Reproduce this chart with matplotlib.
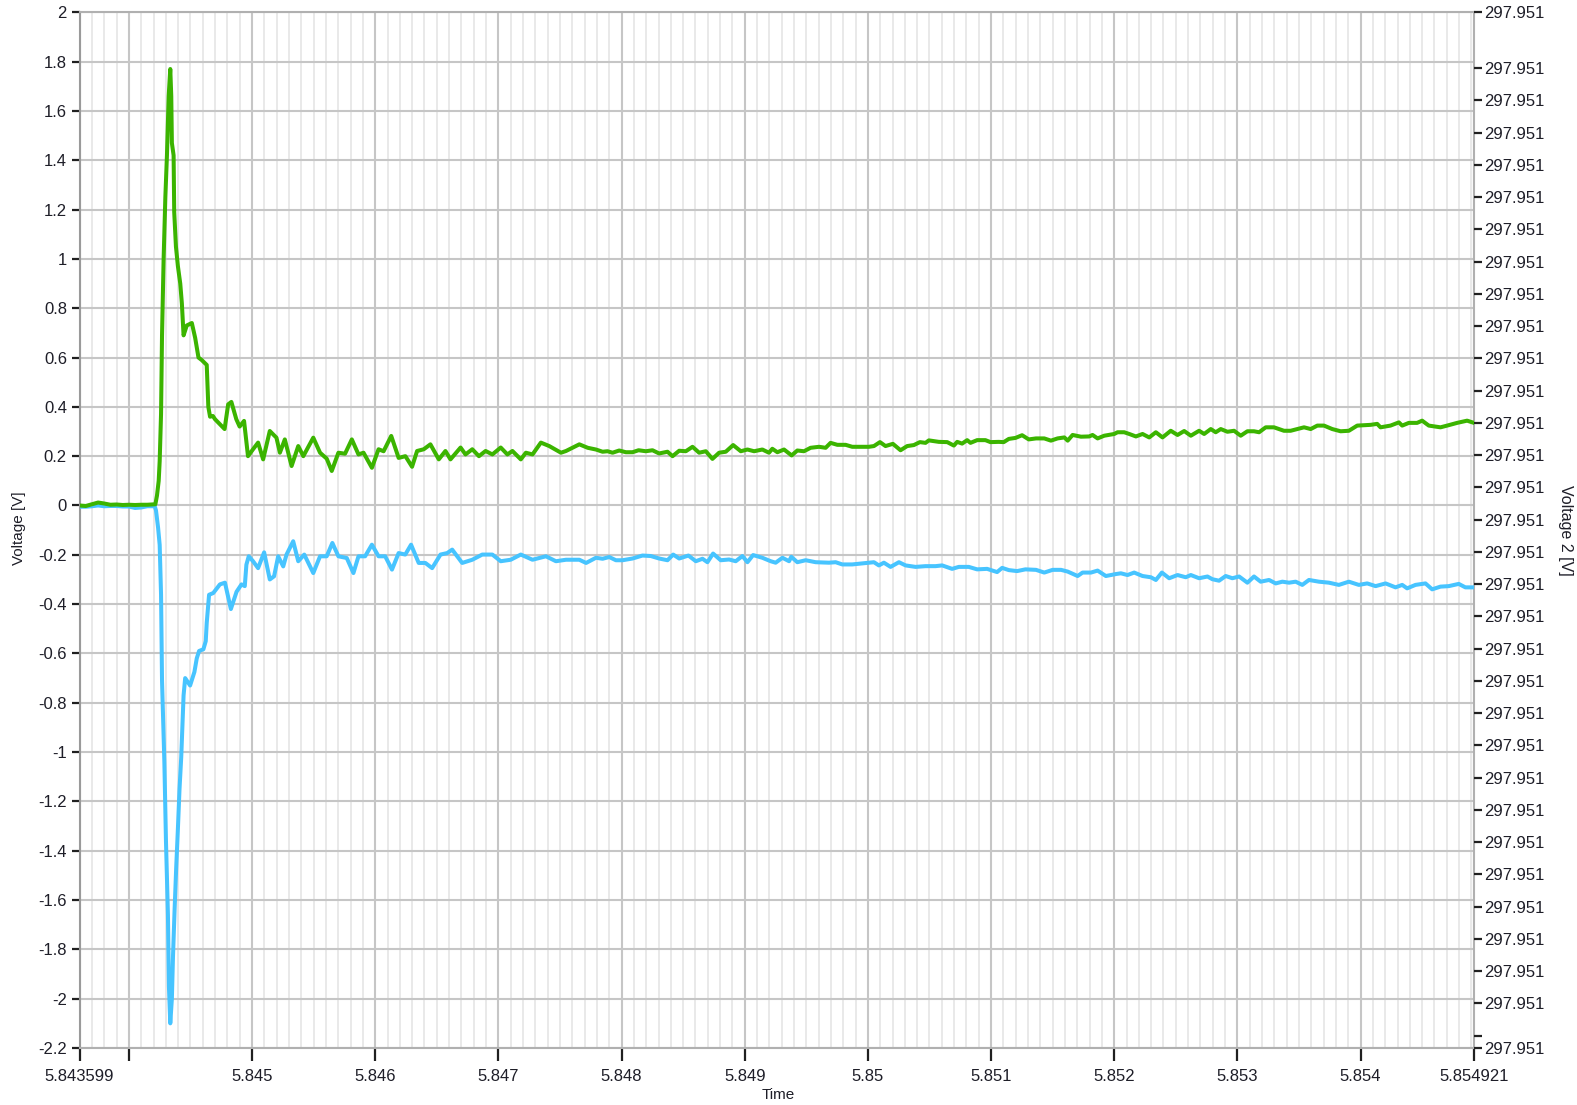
import matplotlib
matplotlib.use("Agg")
import matplotlib.pyplot as plt
from matplotlib.ticker import FixedLocator

plt.rcParams['font.family'] = ['Liberation Sans', 'DejaVu Sans']

# ---------------- data ----------------
green_t = [5.843599, 5.84365, 5.8437, 5.84375, 5.8438, 5.84385, 5.8439, 5.84395, 5.844, 5.84405, 5.8441, 5.84415, 5.844215,
           5.844228, 5.844242, 5.84425, 5.844261, 5.844269, 5.844282, 5.844296, 5.844309, 5.844323, 5.844336, 5.844344,
           5.844349, 5.844363, 5.844368, 5.844382, 5.844398, 5.844417, 5.84443, 5.844444, 5.84447, 5.844511, 5.844538,
           5.844565, 5.844591, 5.844632, 5.844645, 5.844659, 5.844682, 5.844699, 5.844777, 5.844806, 5.844832, 5.844872,
           5.844899, 5.844935, 5.844967,
           5.845008, 5.845049, 5.84509, 5.845144, 5.845198, 5.845226, 5.845266, 5.845321, 5.845375, 5.845416, 5.845497,
           5.845552, 5.845606, 5.845647, 5.845701, 5.845755, 5.84581, 5.845864, 5.845905, 5.845973, 5.846027, 5.846068,
           5.84613, 5.84619, 5.846245, 5.846299, 5.84634, 5.846394, 5.846448, 5.846516, 5.84657, 5.846611, 5.846693,
           5.846733, 5.846788, 5.846842, 5.846896, 5.846951, 5.847019, 5.847073, 5.847114, 5.847182, 5.847223, 5.847277,
           5.847345, 5.847413, 5.847508, 5.847549, 5.847657, 5.847725,
           5.847792, 5.847846, 5.847886, 5.847927, 5.847981, 5.848035, 5.848089, 5.848138, 5.848197, 5.848251, 5.848305,
           5.848373, 5.848414, 5.848468, 5.848522, 5.848576, 5.84863, 5.848684, 5.848738, 5.848792, 5.848846, 5.848906,
           5.848968, 5.849022, 5.849076, 5.849143, 5.849197, 5.849224, 5.849265, 5.849319, 5.849381, 5.849427, 5.849481,
           5.849535, 5.849603, 5.849657, 5.849697, 5.849752, 5.849819, 5.849873, 5.849927, 5.850008, 5.850049, 5.850098,
           5.850143, 5.850203, 5.850265, 5.850319, 5.850373, 5.850422, 5.850468, 5.850495, 5.850576, 5.850644, 5.850698,
           5.850725, 5.850765, 5.850806, 5.850833, 5.850887, 5.850954, 5.850995, 5.851062, 5.851103, 5.851144, 5.851198,
           5.851252, 5.851306,
           5.851365, 5.851432, 5.851486, 5.85154, 5.851595, 5.851622, 5.851662, 5.85173, 5.851797, 5.851824, 5.851865,
           5.851919, 5.852, 5.852027, 5.852081, 5.852122, 5.852176, 5.85223, 5.852284, 5.852338, 5.852392, 5.852459,
           5.852514, 5.852568, 5.852622, 5.852689, 5.85273, 5.852784, 5.852824, 5.852865, 5.852919, 5.852973, 5.853027,
           5.853081, 5.853135, 5.853176, 5.85323, 5.853297, 5.853378, 5.853432, 5.853486, 5.853541, 5.853595, 5.853649,
           5.853703, 5.85377, 5.853838, 5.853905, 5.853973, 5.854081, 5.854135, 5.854162, 5.854243, 5.854311, 5.854338,
           5.854392, 5.854459, 5.8545, 5.854554, 5.854649, 5.854703, 5.854784, 5.854865, 5.854921]
green_v = [0.000, -0.002, 0.005, 0.012, 0.008, 0.003, 0.004, 0.002, 0.003, 0.002, 0.003, 0.003, 0.005,
           0.04, 0.10, 0.18, 0.37, 0.69, 1.00, 1.25, 1.42, 1.66, 1.77, 1.66,
           1.47, 1.42, 1.19, 1.05, 0.97, 0.90, 0.82, 0.69, 0.73, 0.74, 0.68,
           0.60, 0.59, 0.57, 0.40, 0.36, 0.363, 0.35, 0.31, 0.41, 0.42, 0.35,
           0.32, 0.343, 0.20,
           0.228, 0.255, 0.187, 0.302, 0.275, 0.214, 0.268, 0.16, 0.241, 0.20, 0.275,
           0.214, 0.19, 0.14, 0.214, 0.21, 0.268, 0.207, 0.214, 0.153, 0.228, 0.22,
           0.282, 0.193, 0.2, 0.157, 0.221, 0.228, 0.248, 0.187, 0.221, 0.187, 0.235,
           0.207, 0.228, 0.2, 0.221, 0.207, 0.235, 0.207, 0.221, 0.187, 0.214, 0.207,
           0.255, 0.241, 0.214, 0.221, 0.248, 0.234,
           0.227, 0.218, 0.220, 0.214, 0.223, 0.216, 0.216, 0.224, 0.220, 0.224, 0.211,
           0.218, 0.200, 0.222, 0.220, 0.238, 0.214, 0.220, 0.189, 0.214, 0.218, 0.245,
           0.220, 0.227, 0.220, 0.227, 0.214, 0.230, 0.216, 0.227, 0.203, 0.223, 0.220,
           0.234, 0.238, 0.234, 0.254, 0.246, 0.246, 0.238, 0.238, 0.238, 0.241, 0.257,
           0.241, 0.250, 0.224, 0.241, 0.245, 0.257, 0.254, 0.264, 0.258, 0.257, 0.243,
           0.258, 0.251, 0.265, 0.254, 0.265, 0.265, 0.257, 0.258, 0.257, 0.270, 0.274,
           0.285, 0.268,
           0.272, 0.272, 0.263, 0.272, 0.276, 0.263, 0.286, 0.279, 0.280, 0.286, 0.272,
           0.283, 0.290, 0.297, 0.297, 0.290, 0.280, 0.290, 0.276, 0.297, 0.276, 0.303,
           0.286, 0.302, 0.283, 0.303, 0.290, 0.310, 0.297, 0.310, 0.299, 0.303, 0.283,
           0.301, 0.301, 0.297, 0.317, 0.317, 0.303, 0.303, 0.310, 0.317, 0.310, 0.324,
           0.324, 0.310, 0.301, 0.303, 0.324, 0.327, 0.331, 0.317, 0.324, 0.337, 0.324,
           0.335, 0.335, 0.344, 0.324, 0.317, 0.324, 0.335, 0.344, 0.335]

blue_t = [5.843599, 5.84365, 5.8437, 5.84375, 5.8438, 5.84385, 5.8439, 5.84395, 5.844, 5.84405, 5.8441, 5.84415, 5.84421,
          5.84422, 5.844237, 5.84425, 5.844261, 5.844269, 5.844288, 5.844301, 5.844317, 5.844325, 5.844336, 5.844349,
          5.844358, 5.844371, 5.844384, 5.844398, 5.844411, 5.844425, 5.844435, 5.844444, 5.844457, 5.844497, 5.844532,
          5.844551, 5.84457, 5.844605, 5.844624, 5.844632, 5.844651, 5.844685, 5.844739, 5.84478, 5.844828, 5.844874,
          5.844914, 5.844941, 5.844954, 5.844973,
          5.845008, 5.845049, 5.845098, 5.845144, 5.845179, 5.845212, 5.845253, 5.84528, 5.845334, 5.845375, 5.845424,
          5.845497, 5.845552, 5.845606, 5.845652, 5.845701, 5.845769, 5.845823, 5.845864, 5.845918, 5.845973, 5.846027,
          5.846081, 5.846136, 5.84619, 5.846244, 5.846291, 5.846353, 5.846407, 5.846462, 5.84653, 5.846584, 5.846625,
          5.846706, 5.846788, 5.846869, 5.846951, 5.847019, 5.8471, 5.847182, 5.847277, 5.847386, 5.847467, 5.847549,
          5.847657, 5.847712,
          5.847792, 5.847846, 5.8479, 5.847954, 5.848008, 5.848089, 5.84817, 5.848238, 5.848305, 5.848373, 5.848419,
          5.848468, 5.848543, 5.848603, 5.848657, 5.848697, 5.848743, 5.848805, 5.848873, 5.848927, 5.848981, 5.849022,
          5.849068, 5.849143, 5.849211, 5.849251, 5.849306, 5.84936, 5.849378, 5.849427, 5.849495, 5.849576, 5.849684,
          5.849738, 5.849792, 5.849873, 5.849954, 5.850049, 5.850089, 5.85013, 5.850184, 5.850252, 5.850306, 5.850387,
          5.850468, 5.850549, 5.850603, 5.850684, 5.850738, 5.850819, 5.850887, 5.850968, 5.851049, 5.85109, 5.851144,
          5.851211, 5.851279,
          5.851365, 5.851432, 5.8515, 5.851568, 5.851622, 5.851703, 5.851743, 5.851811, 5.851865, 5.851932, 5.852014,
          5.852054, 5.852108, 5.852162, 5.85223, 5.852297, 5.852338, 5.852387, 5.852446, 5.852514, 5.852581, 5.852622,
          5.852689, 5.852757, 5.852797, 5.852851, 5.852905, 5.852959, 5.853014, 5.853081, 5.853135, 5.853189, 5.853257,
          5.853311, 5.853365, 5.853419, 5.853473, 5.853527, 5.853581, 5.853662, 5.853743, 5.853824, 5.853905, 5.853986,
          5.854054, 5.854122, 5.854203, 5.854284, 5.854338, 5.854378, 5.854446, 5.854527, 5.854581, 5.854649, 5.854716,
          5.854797, 5.854851, 5.854921]
blue_v = [-0.005, -0.005, -0.003, 0.000, -0.003, -0.002, -0.002, -0.004, -0.004, -0.010, -0.008, -0.003, -0.003,
          -0.02, -0.09, -0.16, -0.36, -0.71, -1.04, -1.36, -1.66, -1.95, -2.10, -2.00,
          -1.83, -1.64, -1.47, -1.31, -1.15, -1.02, -0.89, -0.77, -0.70, -0.73, -0.675,
          -0.62, -0.59, -0.583, -0.55, -0.476, -0.362, -0.355, -0.32, -0.313, -0.42, -0.35,
          -0.32, -0.327, -0.24, -0.206,
          -0.226, -0.254, -0.19, -0.30, -0.287, -0.206, -0.247, -0.199, -0.145, -0.226, -0.199,
          -0.274, -0.206, -0.206, -0.152, -0.206, -0.213, -0.274, -0.206, -0.206, -0.159, -0.206,
          -0.206, -0.260, -0.193, -0.199, -0.159, -0.233, -0.233, -0.254, -0.199, -0.193, -0.179,
          -0.233, -0.220, -0.199, -0.199, -0.226, -0.220, -0.199, -0.220, -0.206, -0.226, -0.220,
          -0.220, -0.233,
          -0.212, -0.216, -0.209, -0.222, -0.222, -0.215, -0.203, -0.205, -0.215, -0.222, -0.199,
          -0.215, -0.203, -0.226, -0.216, -0.230, -0.195, -0.222, -0.219, -0.226, -0.205, -0.230,
          -0.201, -0.212, -0.226, -0.232, -0.212, -0.226, -0.208, -0.230, -0.222, -0.230, -0.232,
          -0.230, -0.239, -0.239, -0.235, -0.230, -0.243, -0.232, -0.249, -0.230, -0.243, -0.249,
          -0.246, -0.246, -0.243, -0.257, -0.249, -0.249, -0.259, -0.257, -0.270, -0.253, -0.262,
          -0.266, -0.259,
          -0.261, -0.272, -0.261, -0.261, -0.268, -0.286, -0.272, -0.272, -0.264, -0.286, -0.278,
          -0.275, -0.282, -0.272, -0.286, -0.291, -0.302, -0.272, -0.295, -0.282, -0.291, -0.282,
          -0.295, -0.288, -0.299, -0.305, -0.286, -0.295, -0.288, -0.313, -0.288, -0.309, -0.302,
          -0.316, -0.309, -0.313, -0.309, -0.322, -0.302, -0.309, -0.313, -0.322, -0.309, -0.322,
          -0.316, -0.327, -0.316, -0.332, -0.322, -0.336, -0.322, -0.316, -0.340, -0.329, -0.327,
          -0.318, -0.332, -0.332]

x_ticks = [5.843599, 5.844, 5.845, 5.846, 5.847, 5.848, 5.849, 5.850, 5.851, 5.852, 5.853, 5.854, 5.854921]
x_labels = ['5.843599', '', '5.845', '5.846', '5.847', '5.848', '5.849', '5.85', '5.851', '5.852', '5.853', '5.854', '5.854921']
y_ticks = [2, 1.8, 1.6, 1.4, 1.2, 1, 0.8, 0.6, 0.4, 0.2, 0, -0.2, -0.4, -0.6, -0.8, -1, -1.2, -1.4, -1.6, -1.8, -2, -2.2]
y_labels = ['2', '1.8', '1.6', '1.4', '1.2', '1', '0.8', '0.6', '0.4', '0.2', '0', '-0.2', '-0.4', '-0.6', '-0.8',
            '-1', '-1.2', '-1.4', '-1.6', '-1.8', '-2', '-2.2']

# Voltage 2 axis (nearly constant; every label rounds to 297.951)
v2_min = 297.95098462
v2_max = 297.95101673
v2_first_tick = 297.950985
v2_step = 1e-6
v2_n_steps = 30
v2_label = '297.951'

GREEN = '#3BB400'
BLUE = '#47C4FF'
TXT = '#1e1e28'

# ---------------- figure ----------------
W, H = 1577, 1105
fig = plt.figure(figsize=(W / 100, H / 100), dpi=100)
left_px, right_px, top_px, bot_px = 79.5, 1474, 12.3, 1048
ax = fig.add_axes([left_px / W, 1 - bot_px / H, (right_px - left_px) / W, (bot_px - top_px) / H])

ax.plot(blue_t, blue_v, color=BLUE, lw=2.9, solid_joinstyle='round', zorder=3)
ax.plot(green_t, green_v, color=GREEN, lw=2.9, solid_joinstyle='round', zorder=4)

ax.set_xlim(x_ticks[0], x_ticks[-1])
ax.set_ylim(-2.2, 2)

ax.set_xticks(x_ticks)
ax.set_xticklabels(x_labels)
minor_x = [5.8436 + k * 0.0001 for k in range(114)]
minor_x = [m for m in minor_x if abs(m * 1000 - round(m * 1000)) > 1e-6 and m < x_ticks[-1]]
ax.xaxis.set_minor_locator(FixedLocator(minor_x))
ax.set_yticks(y_ticks)
ax.set_yticklabels(y_labels)

ax.set_axisbelow(True)
ax.grid(True, which='major', axis='both', color='#c6c6c6', lw=1.5)
ax.grid(True, which='minor', axis='x', color='#e9e9e9', lw=1.4)

ax.tick_params(axis='x', which='major', direction='out', length=9, width=1.6, color='#202020',
               pad=6, labelsize=12, labelcolor=TXT)
ax.tick_params(axis='x', which='minor', length=0)
ax.tick_params(axis='y', which='major', direction='out', length=6, width=1.6, color='#202020',
               pad=3, labelsize=12, labelcolor=TXT)

for s in ax.spines.values():
    s.set_color('#b0b0b0')
    s.set_linewidth(1.5)
ax.spines['left'].set_color('#9a9a9a')

# right axis
ax2 = ax.twinx()
ax2.set_ylim(v2_min, v2_max)
r_ticks = [v2_min] + [v2_first_tick + k * v2_step for k in range(v2_n_steps + 1)] + [v2_max]
r_labels = [v2_label] + [''] + [v2_label] * v2_n_steps + [v2_label]
ax2.set_yticks(r_ticks)
ax2.set_yticklabels(r_labels)
ax2.tick_params(axis='y', direction='out', length=6, width=1.6, color='#202020', pad=1.5,
                labelsize=12, labelcolor=TXT)
for s in ax2.spines.values():
    s.set_visible(False)

# axis titles
fig.text(778 / W, 1 - 1095 / H, 'Time', ha='center', va='center', fontsize=11, color=TXT)
fig.text(19 / W, 1 - 528 / H, 'Voltage [V]', ha='center', va='center', rotation=90, fontsize=11, color=TXT)
fig.text(1566 / W, 1 - 530 / H, 'Voltage 2 [V]', ha='center', va='center', rotation=270, fontsize=11.5, color=TXT)

fig.savefig('out.png', dpi=100, facecolor='white')
